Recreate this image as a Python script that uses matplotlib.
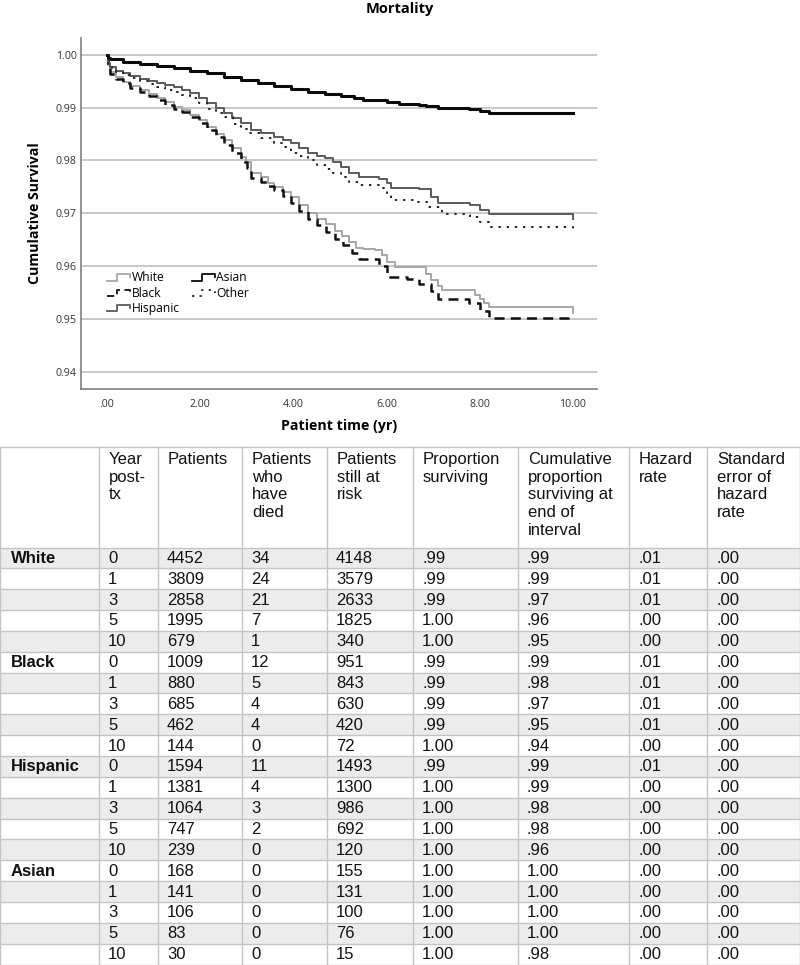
#!/usr/bin/env python3

import numpy as np
import matplotlib
matplotlib.use("Agg")
import matplotlib.pyplot as plt
from matplotlib.lines import Line2D
from matplotlib.patches import Rectangle
from matplotlib.legend_handler import HandlerBase

# ─── CURVE DATA ──────────────────────────────────────────────────────────
white_t = [0.0, 0.03, 0.07, 0.2, 0.35, 0.5, 0.71, 0.9, 1.07, 1.25, 1.43, 1.6, 1.79, 1.97,
           2.15, 2.33, 2.51, 2.69, 2.87, 2.98, 3.09, 3.3, 3.45, 3.59, 3.77, 3.95, 4.13,
           4.31, 4.5, 4.7, 4.9, 5.05, 5.2, 5.35, 5.5, 5.76, 5.9, 6.0, 6.19, 6.7, 6.85,
           6.96, 7.1, 7.2, 7.77, 7.9, 8.0, 8.1, 8.2, 10.0]
white_s = [1.0, 0.9980, 0.9968, 0.9958, 0.9949, 0.9941, 0.9934, 0.9926, 0.9918, 0.9910,
           0.9902, 0.9895, 0.9886, 0.9876, 0.9864, 0.9851, 0.9839, 0.9823, 0.9807, 0.9797,
           0.9776, 0.9768, 0.9758, 0.9750, 0.9741, 0.9731, 0.9715, 0.9700, 0.9690, 0.9680,
           0.9667, 0.9657, 0.9645, 0.9635, 0.9632, 0.9630, 0.9620, 0.9608, 0.9598, 0.9598,
           0.9585, 0.9573, 0.9562, 0.9554, 0.9554, 0.9545, 0.9538, 0.9530, 0.9522, 0.9511]

black_t = [0.0, 0.03, 0.07, 0.2, 0.35, 0.5, 0.71, 0.9, 1.07, 1.25, 1.43, 1.6, 1.79, 1.97,
           2.15, 2.33, 2.51, 2.69, 2.87, 3.0, 3.09, 3.3, 3.45, 3.59, 3.77, 3.95, 4.13,
           4.31, 4.5, 4.7, 4.9, 5.07, 5.25, 5.4, 5.84, 6.0, 6.44, 6.7, 6.96, 7.1, 7.78,
           8.0, 8.2, 10.0]
black_s = [1.0, 0.9978, 0.9964, 0.9955, 0.9946, 0.9938, 0.9930, 0.9922, 0.9914, 0.9906,
           0.9898, 0.9891, 0.9882, 0.9871, 0.9858, 0.9845, 0.9830, 0.9815, 0.9798, 0.9785,
           0.9766, 0.9760, 0.9752, 0.9744, 0.9733, 0.9720, 0.9705, 0.9690, 0.9677, 0.9665,
           0.9652, 0.9640, 0.9625, 0.9613, 0.9600, 0.9580, 0.9575, 0.9565, 0.9552, 0.9537,
           0.9530, 0.9515, 0.9502, 0.9502]

hispanic_t = [0.0, 0.03, 0.07, 0.2, 0.35, 0.5, 0.71, 0.9, 1.07, 1.25, 1.43, 1.6, 1.79, 1.97,
              2.15, 2.33, 2.51, 2.69, 2.87, 3.09, 3.3, 3.59, 3.77, 3.95, 4.13, 4.31, 4.5,
              4.67, 4.85, 5.03, 5.2, 5.4, 5.84, 6.0, 6.1, 6.7, 6.96, 7.1, 7.8, 8.0, 8.2, 10.0]
hispanic_s = [1.0, 0.9985, 0.9978, 0.9970, 0.9965, 0.9960, 0.9954, 0.9950, 0.9946, 0.9943,
              0.9940, 0.9934, 0.9927, 0.9918, 0.9908, 0.9899, 0.9889, 0.9880, 0.9871, 0.9858,
              0.9852, 0.9845, 0.9839, 0.9833, 0.9823, 0.9814, 0.9809, 0.9804, 0.9797, 0.9788,
              0.9776, 0.9769, 0.9764, 0.9757, 0.9747, 0.9745, 0.9731, 0.9719, 0.9716, 0.9706,
              0.9698, 0.9690]

asian_t = [0.0, 0.03, 0.07, 0.35, 0.7, 1.07, 1.43, 1.79, 2.15, 2.51, 2.87, 3.23, 3.59, 3.95,
           4.31, 4.67, 5.03, 5.3, 5.5, 5.84, 6.0, 6.27, 6.7, 6.85, 7.1, 7.77, 8.0, 8.2, 10.0]
asian_s = [1.0, 0.9995, 0.9992, 0.9987, 0.9983, 0.9979, 0.9975, 0.9970, 0.9965, 0.9959,
           0.9953, 0.9946, 0.9941, 0.9935, 0.9930, 0.9926, 0.9922, 0.9918, 0.9915, 0.9914,
           0.9911, 0.9907, 0.9906, 0.9903, 0.9899, 0.9897, 0.9893, 0.9889, 0.9889]

other_t = [0.0, 0.03, 0.1, 0.2, 0.35, 0.5, 0.71, 0.9, 1.07, 1.25, 1.43, 1.6, 1.79, 1.97,
           2.15, 2.33, 2.51, 2.7, 2.87, 3.02, 3.3, 3.59, 3.77, 3.95, 4.13, 4.31, 4.5, 4.7,
           4.85, 5.03, 5.2, 5.4, 5.93, 6.0, 6.1, 6.6, 6.9, 7.2, 7.8, 8.0, 8.2, 10.0]
other_s = [1.0, 0.9983, 0.9975, 0.9968, 0.9962, 0.9957, 0.9950, 0.9945, 0.9940, 0.9934,
           0.9929, 0.9924, 0.9918, 0.9908, 0.9897, 0.9890, 0.9883, 0.9870, 0.9860, 0.9852,
           0.9843, 0.9833, 0.9825, 0.9815, 0.9808, 0.9801, 0.9792, 0.9784, 0.9777, 0.9769,
           0.9760, 0.9753, 0.9747, 0.9735, 0.9726, 0.9722, 0.9712, 0.9698, 0.9692, 0.9683,
           0.9673, 0.9667]

y_ticks = [0.94, 0.95, 0.96, 0.97, 0.98, 0.99, 1.00]
x_ticks = [0, 2, 4, 6, 8, 10]
x_tick_labels = [".00", "2.00", "4.00", "6.00", "8.00", "10.00"]

# ─── TABLE DATA ──────────────────────────────────────────────────────────
header = ["", "Year\npost-\ntx", "Patients", "Patients\nwho\nhave\ndied",
          "Patients\nstill at\nrisk", "Proportion\nsurviving",
          "Cumulative\nproportion\nsurviving at\nend of\ninterval",
          "Hazard\nrate", "Standard\nerror of\nhazard\nrate"]
groups = ["White", "Black", "Hispanic", "Asian"]
years = ["0", "1", "3", "5", "10"]
patients = [[4452, 3809, 2858, 1995, 679],
            [1009, 880, 685, 462, 144],
            [1594, 1381, 1064, 747, 239],
            [168, 141, 106, 83, 30]]
died = [[34, 24, 21, 7, 1],
        [12, 5, 4, 4, 0],
        [11, 4, 3, 2, 0],
        [0, 0, 0, 0, 0]]
at_risk = [[4148, 3579, 2633, 1825, 340],
           [951, 843, 630, 420, 72],
           [1493, 1300, 986, 692, 120],
           [155, 131, 100, 76, 15]]
prop_surv = [[".99", ".99", ".99", "1.00", "1.00"],
             [".99", ".99", ".99", ".99", "1.00"],
             [".99", "1.00", "1.00", "1.00", "1.00"],
             ["1.00", "1.00", "1.00", "1.00", "1.00"]]
cum_surv = [[".99", ".99", ".97", ".96", ".95"],
            [".99", ".98", ".97", ".95", ".94"],
            [".99", ".99", ".98", ".98", ".96"],
            ["1.00", "1.00", "1.00", "1.00", ".98"]]
hazard = [[".01", ".01", ".01", ".00", ".00"],
          [".01", ".01", ".01", ".01", ".00"],
          [".01", ".00", ".00", ".00", ".00"],
          [".00", ".00", ".00", ".00", ".00"]]
se_hazard = [[".00"] * 5 for _ in groups]

# ─── STYLE ───────────────────────────────────────────────────────────────
chart_font = ["Open Sans", "DejaVu Sans"]
table_font = ["Liberation Sans", "DejaVu Sans"]
plt.rcParams["font.family"] = chart_font


class StepHandler(HandlerBase):
    """Legend glyph drawn as a little step, like the survival curves."""
    def create_artists(self, legend, orig_handle, xdescent, ydescent,
                       width, height, fontsize, trans):
        xs = np.array([0.0, 0.45, 0.45, 1.0, 1.0]) * width - xdescent
        ys = np.array([0.1, 0.1, 0.85, 0.85, 0.5]) * height - ydescent
        line = Line2D(xs, ys)
        self.update_prop(line, orig_handle, legend)
        line.set_linewidth(min(orig_handle.get_linewidth(), 1.3))
        line.set_transform(trans)
        return [line]


fig = plt.figure(figsize=(8.0, 9.65), dpi=100)
W, H = 800, 965

# chart axes in pixel layout
ax = fig.add_axes([81 / W, 1 - 389 / H, 516 / W, 351 / H])

series = [
    ("White", white_t, white_s, dict(color="#a6a6a6", lw=1.4, ls="-")),
    ("Black", black_t, black_s, dict(color="#111111", lw=1.8, ls=(0, (4, 2.5)))),
    ("Hispanic", hispanic_t, hispanic_s, dict(color="#5a5a5a", lw=1.4, ls="-")),
    ("Asian", asian_t, asian_s, dict(color="#0a0a0a", lw=2.2, ls="-")),
    ("Other", other_t, other_s, dict(color="#222222", lw=1.4, ls=(0, (1.2, 3)))),
]
handles = []
for label, t, s, kw in series:
    ln, = ax.plot(t, s, drawstyle="steps-post", label=label, **kw)
    handles.append(ln)

ax.set_xlim(-0.56, 10.52)
ax.set_ylim(0.9367, 1.0032)
ax.set_yticks(y_ticks)
ax.set_yticklabels([f"{v:.2f}" for v in y_ticks])
ax.set_xticks(x_ticks)
ax.set_xticklabels(x_tick_labels)
ax.tick_params(length=0, labelsize=7.7, colors="#333333")
ax.tick_params(axis="x", pad=7)
ax.tick_params(axis="y", pad=3)
ax.grid(axis="y", color="#c4c4c4", lw=1.3)
ax.set_axisbelow(True)
for side in ["top", "right"]:
    ax.spines[side].set_visible(False)
for side in ["left", "bottom"]:
    ax.spines[side].set_color("#808080")
    ax.spines[side].set_linewidth(1.2)

ax.set_ylabel("Cumulative Survival", fontsize=10.2, fontweight="bold")
ax.yaxis.set_label_coords(-0.089, 0.5)
ax.set_xlabel("Patient time (yr)", fontsize=10.2, fontweight="bold")
ax.xaxis.set_label_coords(0.5, -0.105)
ax.xaxis.label.set_va("center")
ax.yaxis.label.set_va("center")

fig.text(0.5, 1 - 9 / H, "Mortality", ha="center", va="center",
         fontsize=10.5, fontweight="bold")

leg = ax.legend(handles=handles, ncol=2, loc="upper left",
                bbox_to_anchor=(0.05, 0.335), frameon=False,
                fontsize=8.7, handlelength=1.9, handletextpad=0.15,
                columnspacing=1.0, labelspacing=0.2, borderpad=0,
                borderaxespad=0,
                handler_map={Line2D: StepHandler()})

# ─── TABLE ───────────────────────────────────────────────────────────────
col_edges = [0, 99, 158, 242, 327, 413, 518, 629, 707, 799.5]
table_top = 447
header_h = 100.5
row_h = 20.85
grid_col = "#c4c4c4"
shade_col = "#ececec"
tfs = 12.0

tax = fig.add_axes([0, 0, 1, 1])
tax.set_xlim(0, W)
tax.set_ylim(H, 0)
tax.axis("off")

# body rows
row_idx = 0
for g, grp in enumerate(groups):
    for k, yr in enumerate(years):
        y0 = table_top + header_h + row_idx * row_h
        if row_idx % 2 == 0:
            tax.add_patch(Rectangle((0, y0), W, row_h, facecolor=shade_col,
                                    edgecolor="none", zorder=0))
        yc = y0 + row_h / 2 + 0.5
        cells = [grp if k == 0 else "", yr, str(patients[g][k]), str(died[g][k]),
                 str(at_risk[g][k]), prop_surv[g][k], cum_surv[g][k],
                 hazard[g][k], se_hazard[g][k]]
        for c, txt in enumerate(cells):
            if not txt:
                continue
            pad = 11 if c == 0 else 9
            tax.text(col_edges[c] + pad, yc, txt, ha="left", va="center",
                     fontsize=tfs, family=table_font,
                     fontweight="bold" if c == 0 else "normal", color="#111111")
        row_idx += 1

# header
for c, txt in enumerate(header):
    if txt:
        tax.text(col_edges[c] + 10, table_top + 5, txt, ha="left", va="top",
                 fontsize=tfs, family=table_font, linespacing=1.22,
                 color="#111111")

# grid lines
n_rows = len(groups) * len(years)
table_bottom = table_top + header_h + n_rows * row_h
hlines = [table_top, table_top + header_h] + \
         [table_top + header_h + i * row_h for i in range(1, n_rows + 1)]
for yy in hlines:
    tax.plot([0, W], [yy, yy], color=grid_col, lw=1.0, zorder=2)
for xx in col_edges:
    tax.plot([xx, xx], [table_top, table_bottom], color=grid_col, lw=1.0, zorder=2)

plt.savefig("out.png", dpi=100)
